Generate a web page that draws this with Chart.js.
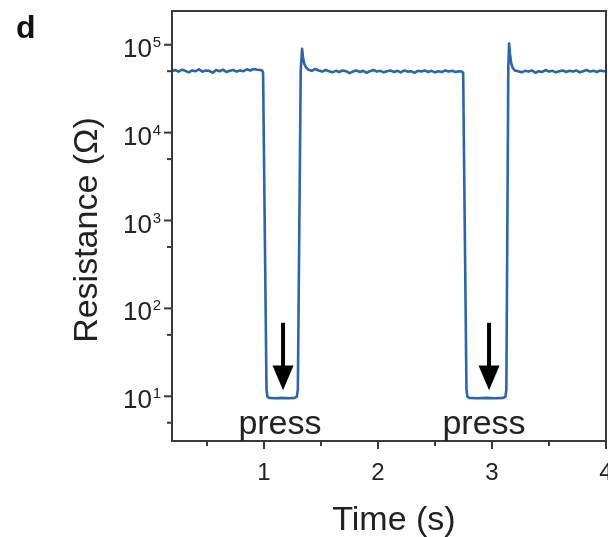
<!DOCTYPE html>
<html>
<head>
    <title>Resistance vs time</title>
    <script src="https://cdn.jsdelivr.net/npm/chart.js"></script>
    <style>
        html, body { margin: 0; padding: 0; background: #fff; }
        #wrap { width: 608px; height: 537px; }
    </style>
</head>
<body>
<div id="wrap"><canvas id="resChart" width="608" height="537"></canvas></div>
<script>
// sampled trace (time in s, resistance in ohm)
const timeS = [
    0.193, 0.22, 0.25, 0.28, 0.31, 0.34, 0.37, 0.40, 0.43, 0.46, 0.49, 0.52, 0.55, 0.58,
    0.61, 0.64, 0.67, 0.70, 0.73, 0.76, 0.79, 0.82, 0.85, 0.88, 0.91, 0.94, 0.97, 0.985,
    0.992, 1.022, 1.030, 1.045, 1.10, 1.16, 1.22, 1.27, 1.288, 1.297, 1.322, 1.334, 1.343,
    1.355, 1.37, 1.39,
    1.42, 1.45, 1.48, 1.51, 1.54, 1.57, 1.60, 1.63, 1.66, 1.69, 1.72, 1.75, 1.78, 1.81,
    1.84, 1.87, 1.90, 1.93, 1.96, 1.99, 2.02, 2.05, 2.08, 2.11, 2.14, 2.17, 2.20, 2.23,
    2.26, 2.29, 2.32, 2.35, 2.38, 2.41, 2.44, 2.47, 2.50, 2.53, 2.56, 2.59, 2.62, 2.65,
    2.68, 2.71, 2.735,
    2.747, 2.776, 2.784, 2.80, 2.87, 2.95, 3.03, 3.10, 3.118, 3.126, 3.143, 3.150, 3.158,
    3.168, 3.18, 3.20,
    3.23, 3.26, 3.29, 3.32, 3.35, 3.38, 3.41, 3.44, 3.47, 3.50, 3.53, 3.56, 3.59, 3.62,
    3.65, 3.68, 3.71, 3.74, 3.77, 3.80, 3.83, 3.86, 3.89, 3.92, 3.95, 3.98, 4.0
];
const resistanceOhm = [
    50000, 51500, 49500, 52000, 50500, 48500, 51000, 50000, 52500, 49500, 51000, 50500, 48000, 51500,
    50000, 52000, 49000, 50500, 51500, 49500, 51000, 50000, 52500, 51000, 53000, 52000, 51500, 50500,
    48000, 12, 9.9, 9.6, 9.5, 9.6, 9.5, 9.6, 9.9, 12, 50000, 90000, 70000,
    60000, 55000, 52000,
    50500, 53000, 51000, 49500, 51500, 50000, 48500, 50500, 49000, 51000, 50000, 47500, 49500, 51000,
    49000, 50500, 48000, 50000, 51500, 49500, 50500, 48500, 50000, 51000, 49000, 50500, 48500, 51000,
    49500, 50000, 48000, 50500, 49500, 51000, 49000, 50500, 48500, 50000, 49000, 51000, 49500, 50500,
    49000, 50000, 49500,
    48000, 12, 9.9, 9.6, 9.5, 9.6, 9.5, 9.6, 9.9, 12, 55000, 103000, 78000,
    62000, 55000, 51000,
    50000, 48500, 50500, 49500, 51000, 48000, 50000, 49000, 51500, 49500, 50500, 48500, 50000, 51000,
    49000, 50500, 49500, 51000, 48500, 50000, 51500, 49500, 50500, 49000, 51000, 50000, 50500
];

// axis ticks
const xMajorTicks = [1, 2, 3, 4];
const xMinorTicks = [0.5, 1.5, 2.5, 3.5];
const yMajorTicks = [10, 100, 1000, 10000, 100000];
const yMajorExp = ['1', '2', '3', '4', '5'];
const yMinorTicks = [5, 50, 500, 5000, 50000];

// annotations
const pressTimes = [1.14, 2.93];
const arrowTimes = [1.167, 2.974];
const arrowTop = 68.6;
const arrowHeadBase = 22.4;
const arrowTip = 11.7;
const pressLabelY = 3.75;

const FONT = '"Liberation Sans", Arial, Helvetica, sans-serif';
const INK = '#222';
const AXIS = '#3a3a3a';

const overlay = {
    id: 'overlay',
    afterDraw(chart) {
        const ctx = chart.ctx;
        const a = chart.chartArea;
        const x = chart.scales.x;
        const y = chart.scales.y;
        ctx.save();

        // frame
        ctx.strokeStyle = AXIS;
        ctx.lineWidth = 2;
        ctx.strokeRect(a.left, a.top, a.right - a.left, a.bottom - a.top);

        // x ticks
        ctx.lineWidth = 2;
        xMajorTicks.forEach(v => {
            const px = x.getPixelForValue(v);
            ctx.beginPath(); ctx.moveTo(px, a.bottom); ctx.lineTo(px, a.bottom + 8); ctx.stroke();
        });
        xMinorTicks.forEach(v => {
            const px = x.getPixelForValue(v);
            ctx.beginPath(); ctx.moveTo(px, a.bottom); ctx.lineTo(px, a.bottom + 5); ctx.stroke();
        });
        // y ticks
        yMajorTicks.forEach(v => {
            const py = y.getPixelForValue(v);
            ctx.beginPath(); ctx.moveTo(a.left, py); ctx.lineTo(a.left - 8, py); ctx.stroke();
        });
        yMinorTicks.forEach(v => {
            const py = y.getPixelForValue(v);
            ctx.beginPath(); ctx.moveTo(a.left, py); ctx.lineTo(a.left - 5, py); ctx.stroke();
        });

        // x tick labels
        ctx.fillStyle = INK;
        ctx.font = '24px ' + FONT;
        ctx.textAlign = 'center';
        ctx.textBaseline = 'alphabetic';
        xMajorTicks.forEach(v => {
            ctx.fillText(String(v), x.getPixelForValue(v), a.bottom + 39);
        });

        // y tick labels: 10 with superscript exponent
        yMajorTicks.forEach((v, i) => {
            const py = y.getPixelForValue(v);
            ctx.textAlign = 'right';
            ctx.font = '15px ' + FONT;
            ctx.fillText(yMajorExp[i], a.left - 11, py + 2);
            ctx.font = '26px ' + FONT;
            ctx.fillText('10', a.left - 20, py + 12);
        });

        // axis titles
        ctx.font = '34px ' + FONT;
        ctx.textAlign = 'center';
        ctx.fillText('Time (s)', (a.left + a.right) / 2 + 5, 530);
        ctx.save();
        ctx.translate(97, (a.top + a.bottom) / 2 + 4);
        ctx.rotate(-Math.PI / 2);
        ctx.fillText('Resistance (\u03A9)', 0, 0);
        ctx.restore();

        // press arrows and labels
        ctx.strokeStyle = '#000';
        ctx.fillStyle = '#000';
        arrowTimes.forEach(t => {
            const px = x.getPixelForValue(t);
            const top = y.getPixelForValue(arrowTop);
            const base = y.getPixelForValue(arrowHeadBase);
            const tip = y.getPixelForValue(arrowTip);
            ctx.lineWidth = 4;
            ctx.beginPath(); ctx.moveTo(px, top); ctx.lineTo(px, base + 2); ctx.stroke();
            ctx.beginPath();
            ctx.moveTo(px - 10.5, base);
            ctx.lineTo(px + 10.5, base);
            ctx.lineTo(px, tip);
            ctx.closePath();
            ctx.fill();
        });
        ctx.fillStyle = INK;
        ctx.font = '34px ' + FONT;
        ctx.textAlign = 'center';
        pressTimes.forEach(t => {
            ctx.fillText('press', x.getPixelForValue(t), y.getPixelForValue(pressLabelY));
        });

        // panel letter
        ctx.font = 'bold 32px ' + FONT;
        ctx.textAlign = 'left';
        ctx.fillStyle = '#111';
        ctx.fillText('d', 16, 38);

        ctx.restore();
    }
};

const points = timeS.map((t, i) => ({ x: t, y: resistanceOhm[i] }));

new Chart(document.getElementById('resChart'), {
    type: 'line',
    data: {
        datasets: [{
            label: 'Resistance',
            data: points,
            borderColor: '#2d65a6',
            borderWidth: 2.6,
            pointRadius: 0,
            tension: 0,
            borderJoinStyle: 'round',
            borderCapStyle: 'round',
            fill: false
        }]
    },
    options: {
        responsive: false,
        devicePixelRatio: 1,
        animation: false,
        layout: { padding: { top: 11, right: 2, left: 0, bottom: 0 } },
        plugins: {
            legend: { display: false },
            tooltip: { enabled: false }
        },
        scales: {
            x: {
                type: 'linear',
                min: 0.193,
                max: 4.0,
                grid: { display: false },
                border: { display: false },
                ticks: { display: false },
                afterFit: s => { s.height = 96; }
            },
            y: {
                type: 'logarithmic',
                min: 3.1,
                max: 242000,
                grid: { display: false },
                border: { display: false },
                ticks: { display: false },
                afterFit: s => { s.width = 172; }
            }
        }
    },
    plugins: [overlay]
});
</script>
</body>
</html>
